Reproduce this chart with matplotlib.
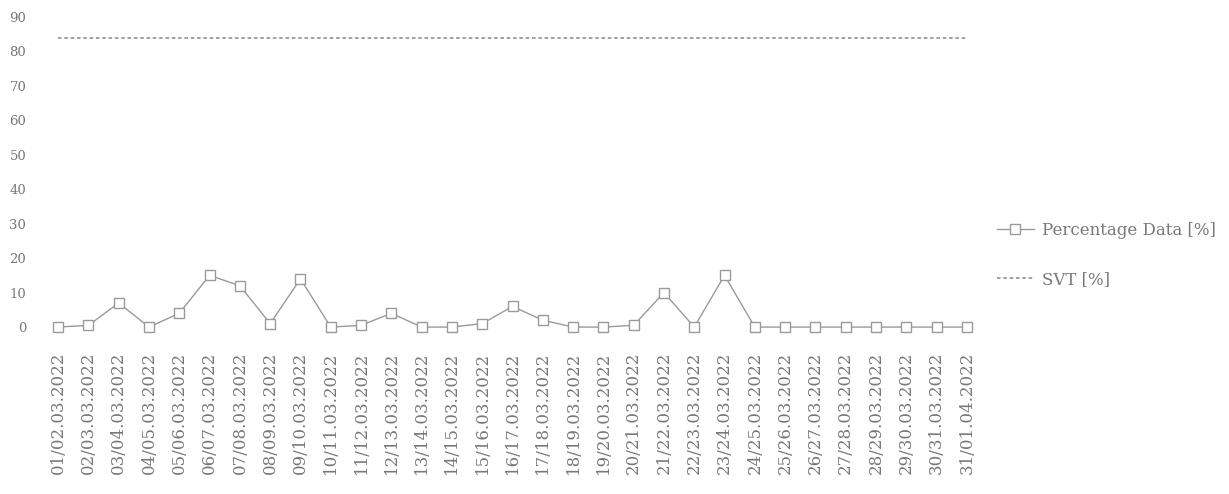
import matplotlib
matplotlib.use("Agg")
import matplotlib.pyplot as plt

dates = ["01/02.03.2022", "02/03.03.2022", "03/04.03.2022", "04/05.03.2022",
         "05/06.03.2022", "06/07.03.2022", "07/08.03.2022", "08/09.03.2022",
         "09/10.03.2022", "10/11.03.2022", "11/12.03.2022", "12/13.03.2022",
         "13/14.03.2022", "14/15.03.2022", "15/16.03.2022", "16/17.03.2022",
         "17/18.03.2022", "18/19.03.2022", "19/20.03.2022", "20/21.03.2022",
         "21/22.03.2022", "22/23.03.2022", "23/24.03.2022", "24/25.03.2022",
         "25/26.03.2022", "26/27.03.2022", "27/28.03.2022", "28/29.03.2022",
         "29/30.03.2022", "30/31.03.2022", "31/01.04.2022"]
percentage = [0, 0.5, 7, 0, 4, 15, 12, 1, 14, 0, 0.5, 4,
              0, 0, 1, 6, 2, 0, 0, 0.5, 10, 0, 15,
              0, 0, 0, 0, 0, 0, 0, 0]
svt = [84] * 31
yticks = [0, 10, 20, 30, 40, 50, 60, 70, 80, 90]

fig = plt.figure(figsize=(12.29, 4.94), dpi=100)
ax = fig.add_axes([43/1229, 1 - 335/494, (982-43)/1229, (335-10)/494])
x = list(range(len(dates)))
ax.plot(x, percentage, color="#9a9a9a", lw=1.0, marker="s", ms=7,
        mfc="white", mec="#9a9a9a", mew=1.0, label="Percentage Data [%]")
ax.plot(x, svt, color="#9a9a9a", lw=1.3, ls=(0, (2, 1.5)), label="SVT [%]")
ax.set_xlim(-0.5, len(dates) - 0.5)
ax.set_ylim(-2.3, 92)
ax.set_yticks(yticks)
ax.set_yticklabels([str(v) for v in yticks], color="#777777", fontsize=9.5,
                   family="DejaVu Serif")
ax.set_xticks(x)
ax.set_xticklabels(dates, rotation=90, color="#777777", fontsize=12,
                   family="DejaVu Serif")
ax.tick_params(axis="x", length=0, pad=12)
ax.tick_params(axis="y", length=0, pad=12)
for s in ax.spines.values():
    s.set_visible(False)
leg = fig.legend(*ax.get_legend_handles_labels(), loc="center left",
                 bbox_to_anchor=(997/1229, 1 - 255/494), frameon=False,
                 labelspacing=1.9, handlelength=2.2, handletextpad=0.5,
                 borderaxespad=0, borderpad=0,
                 prop={"family": "DejaVu Serif", "size": 12})
for t in leg.get_texts():
    t.set_color("#777777")
fig.savefig("out.png", dpi=100)
